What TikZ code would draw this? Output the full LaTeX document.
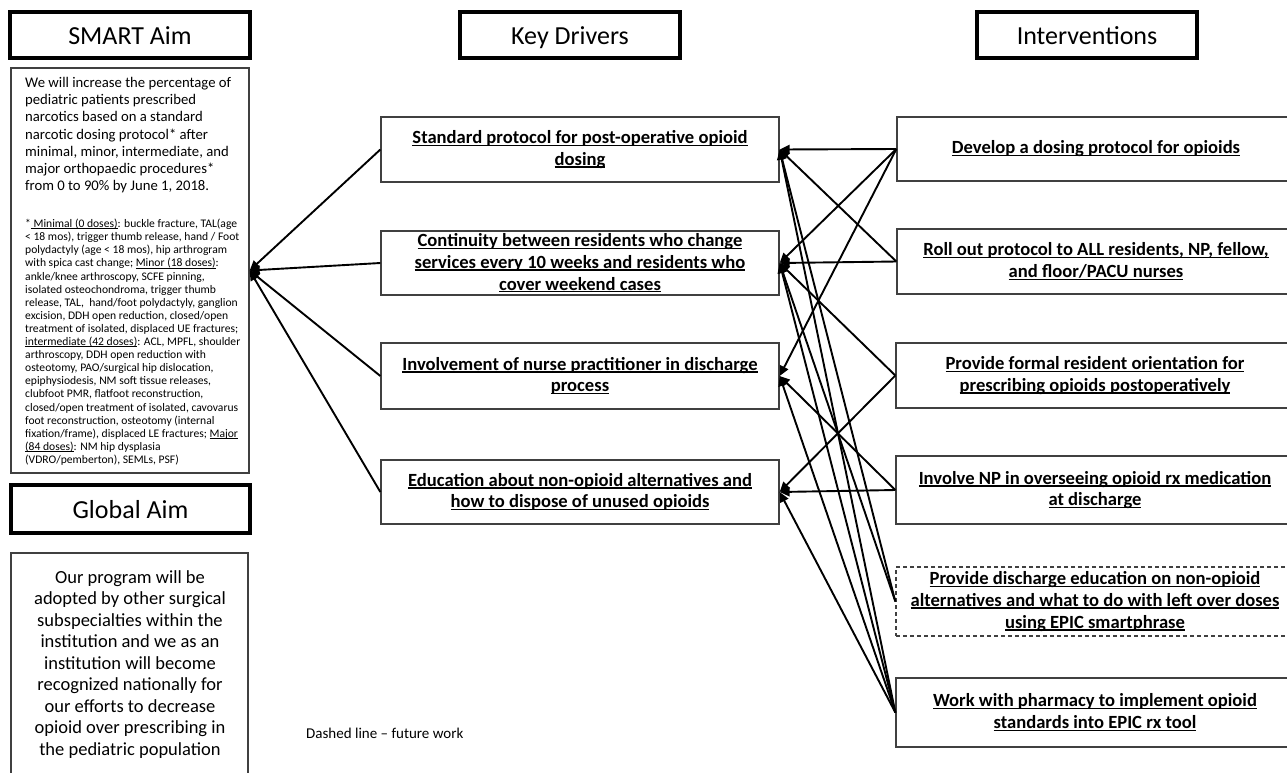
\documentclass[tikz,border=0pt]{standalone}
\usepackage{fontspec}
\setmainfont{Carlito}
\usetikzlibrary{arrows.meta}
\newcommand\uln[1]{\leavevmode\setbox0=\hbox{#1}\rlap{\rule[-0.13em]{\wd0}{0.075em}}\box0}
\tikzset{
  hdr/.style={draw=black, line width=3.2pt, minimum height=46pt, inner sep=0pt, text height=18pt, text depth=0pt, font=\fontsize{26}{30}\selectfont},
  frame/.style={draw=black!75, line width=1.3pt, inner sep=0pt},
  drv/.style={frame, minimum width=398pt, align=center, font=\bfseries\fontsize{18.6}{21.7}\selectfont},
  intv/.style={frame, minimum width=398pt, align=center, font=\bfseries\fontsize{18.6}{21.7}\selectfont},
  conn/.style={line width=1.9pt, -{Triangle[length=10pt,width=9pt]}},
  plain/.style={inner sep=0pt, align=left}
}
\begin{document}
\begin{tikzpicture}[x=1pt,y=-1pt]
\useasboundingbox (0,0) rectangle (1287,772);
\clip (0,0) rectangle (1287,772);
\fill[white] (0,0) rectangle (1287,772);
% headers
\node[hdr, minimum width=240pt] (hsmart) at (130,35) {SMART Aim};
\node[hdr, minimum width=220pt] (hkd) at (570,35) {Key Drivers};
\node[hdr, minimum width=220pt] (hint) at (1087,35) {Interventions};
\node[hdr, minimum width=239pt, minimum height=48pt] (hglobal) at (130.5,509) {Global Aim};
% SMART aim box
\node[frame, minimum width=238pt, minimum height=405pt] (smartbox) at (130,270.5) {};
\node[plain, anchor=north west, font=\fontsize{14.7}{17.2}\selectfont] (smartmain) at (25,77) {We will increase the percentage of\\
pediatric patients prescribed\\
narcotics based on a standard\\
narcotic dosing protocol* after\\
minimal, minor, intermediate, and\\
major orthopaedic procedures*\\
from 0 to 90\% by June 1, 2018.};
\node[plain, anchor=north west, font=\fontsize{11.6}{13.1}\selectfont] (smartnote) at (25,219) {*\uln{ Minimal (0 doses)}: buckle fracture, TAL(age\\
< 18 mos), trigger thumb release, hand / Foot\\
polydactyly (age < 18 mos), hip arthrogram\\
with spica cast change; \uln{Minor (18 doses)}:\\
ankle/knee arthroscopy, SCFE pinning,\\
isolated osteochondroma, trigger thumb\\
release, TAL,~ hand/foot polydactyly, ganglion\\
excision, DDH open reduction, closed/open\\
treatment of isolated, displaced UE fractures;\\
\uln{intermediate (42 doses)}: ACL, MPFL, shoulder\\
arthroscopy, DDH open reduction with\\
osteotomy, PAO/surgical hip dislocation,\\
epiphysiodesis, NM soft tissue releases,\\
clubfoot PMR, flatfoot reconstruction,\\
closed/open treatment of isolated, cavovarus\\
foot reconstruction, osteotomy (internal\\
fixation/frame), displaced LE fractures; \uln{Major}\\
\uln{(84 doses)}: NM hip dysplasia\\
(VDRO/pemberton), SEMLs, PSF)};
% Global aim box
\node[frame, minimum width=237pt, minimum height=240pt] (gbox) at (129.5,673) {};
\node[plain, align=center, anchor=north, font=\fontsize{18.5}{21.5}\selectfont] (gtext) at (130,570) {Our program will be\\
adopted by other surgical\\
subspecialties within the\\
institution and we as an\\
institution will become\\
recognized nationally for\\
our efforts to decrease\\
opioid over prescribing in\\
the pediatric population};
% key drivers
\node[drv, minimum height=65pt] (kd1) at (580,149.5) {\uln{Standard protocol for post-operative opioid}\\\uln{dosing}};
\node[drv, minimum height=64pt] (kd2) at (580,263) {\uln{Continuity between residents who change}\\\uln{services every 10 weeks and residents who}\\\uln{cover weekend cases}};
\node[drv, minimum height=66pt] (kd3) at (580,376) {\uln{Involvement of nurse practitioner in discharge}\\\uln{process}};
\node[drv, minimum height=64pt] (kd4) at (580,492) {\uln{Education about non-opioid alternatives and}\\\uln{how to dispose of unused opioids}};
% interventions
\node[intv, minimum height=64pt] (i1) at (1096,149) {\uln{Develop a dosing protocol for opioids}};
\node[intv, minimum height=65pt] (i2) at (1096,261.5) {\uln{Roll out protocol to ALL residents, NP, fellow,}\\\uln{and floor/PACU nurses}};
\node[intv, minimum height=65pt] (i3) at (1095,375.5) {\uln{Provide formal resident orientation for}\\\uln{prescribing opioids postoperatively}};
\node[intv, minimum height=68pt] (i4) at (1095,490) {\uln{Involve NP in overseeing opioid rx medication}\\\uln{at discharge}};
\node[intv, dashed, dash pattern=on 4pt off 3pt, minimum height=69pt] (i5) at (1095,601.5) {\uln{Provide discharge education on non-opioid}\\\uln{alternatives and what to do with left over doses}\\\uln{using EPIC smartphrase}};
\node[intv, minimum height=69pt] (i6) at (1095,712.5) {\uln{Work with pharmacy to implement opioid}\\\uln{standards into EPIC rx tool}};
% note
\node[plain, anchor=west, font=\fontsize{15}{18}\selectfont] (note) at (306,733) {Dashed line -- future work};
% connectors: drivers to aim
\draw[conn] (kd1.west) -- (smartbox.east);
\draw[conn] (kd2.west) -- (smartbox.east);
\draw[conn] (kd3.west) -- (smartbox.east);
\draw[conn] (kd4.west) -- (smartbox.east);
% connectors: interventions to drivers
\draw[conn] (i1.west) -- (kd1.east);
\draw[conn] (i1.west) -- (kd2.east);
\draw[conn] (i1.west) -- (kd3.east);
\draw[conn] (i2.west) -- (kd1.east);
\draw[conn] (i2.west) -- (kd2.east);
\draw[conn] (i3.west) -- (kd2.east);
\draw[conn] (i3.west) -- (kd4.east);
\draw[conn] (i4.west) -- (kd3.east);
\draw[conn] (i4.west) -- (kd4.east);
\draw[conn] (i5.west) -- (kd1.east);
\draw[conn] (i5.west) -- (kd2.east);
\draw[conn] (i6.west) -- (kd1.east);
\draw[conn] (i6.west) -- (kd2.east);
\draw[conn] (i6.west) -- (kd3.east);
\draw[conn] (i6.west) -- (kd4.east);
\end{tikzpicture}
\end{document}
